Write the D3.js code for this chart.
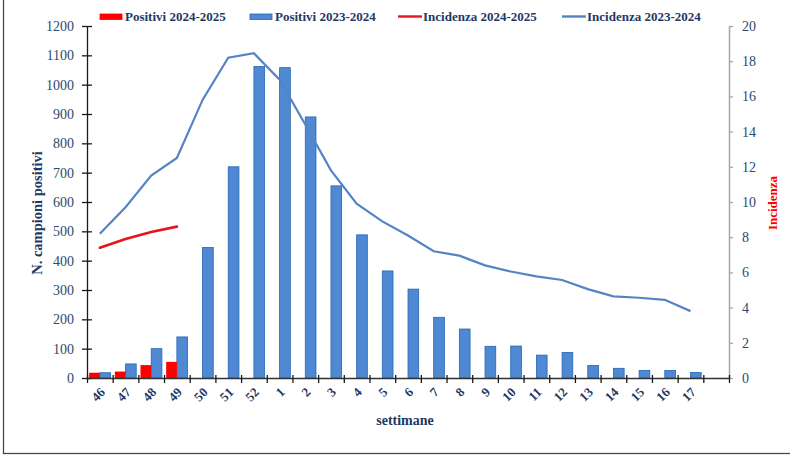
<!DOCTYPE html>
<html>
<head>
<meta charset="utf-8">
<script src="https://cdn.jsdelivr.net/npm/d3@7"></script>
<style>
    body { margin: 0; background: #fff; }
    svg text { font-family: "Liberation Serif", "Times New Roman", serif; }
</style>
</head>
<body>
<svg id="chart" width="790" height="458"></svg>
<script>
// weeks of the season, last slot is left empty on the axis
var weeks = ['46', '47', '48', '49', '50', '51', '52', '1', '2', '3', '4', '5', '6',
             '7', '8', '9', '10', '11', '12', '13', '14', '15', '16', '17', ''];

var positivi2425 = [18, 22, 44, 55];
var positivi2324 = [18, 48, 100, 140, 445, 720, 1062, 1058, 890, 655, 488, 365, 303,
                    207, 167, 108, 109, 78, 87, 43, 33, 26, 26, 19];

var incidenza2425 = [7.4, 7.9, 8.3, 8.6];
var incidenza2324 = [8.2, 9.7, 11.5, 12.5, 15.8, 18.2, 18.45, 16.95, 14.4, 11.8, 9.9, 8.9,
                     8.1, 7.2, 6.95, 6.4, 6.05, 5.77, 5.57, 5.05, 4.64, 4.56, 4.44, 3.8];

var leftTicks = d3.range(0, 1201, 100);
var rightTicks = d3.range(0, 21, 2);

var NAVY = '#1f3864',
    TICK_TXT = '#2c4a6e',
    BLUE_FILL = '#5089d3',
    BLUE_EDGE = '#2467b4',
    BLUE_LINE = '#5584c6',
    RED = '#ff0000',
    RED_LINE = '#e8141c';

var svg = d3.select('#chart');

// outer frame
svg.append('rect')
    .attr('x', 3.5).attr('y', -10)
    .attr('width', 820).attr('height', 463.5)
    .attr('fill', 'none')
    .attr('stroke', '#2f4f72')
    .attr('stroke-width', 1.3);

var x = d3.scaleBand().domain(weeks).range([87, 729]),
    xSub = d3.scaleBand().domain(['a', 'b']).range([0, x.bandwidth()]).paddingOuter(0.2),
    y = d3.scaleLinear().domain([0, 1200]).range([378, 26]),
    y2 = d3.scaleLinear().domain([0, 20]).range([378, 26]),
    xEdge = d3.scaleLinear().domain([0, weeks.length]).range([87, 729]);

// bars
svg.append('g').selectAll('rect')
    .data(positivi2324)
    .enter().append('rect')
    .attr('x', function(d, i) { return x(weeks[i]) + xSub('b'); })
    .attr('y', function(d) { return y(d); })
    .attr('width', xSub.bandwidth())
    .attr('height', function(d) { return y(0) - y(d); })
    .attr('fill', BLUE_FILL)
    .attr('stroke', BLUE_EDGE)
    .attr('stroke-width', 0.8);

svg.append('g').selectAll('rect')
    .data(positivi2425)
    .enter().append('rect')
    .attr('x', function(d, i) { return x(weeks[i]) + xSub('a'); })
    .attr('y', function(d) { return y(d); })
    .attr('width', xSub.bandwidth())
    .attr('height', function(d) { return y(0) - y(d); })
    .attr('fill', RED);

// incidence lines
var line = d3.line()
    .x(function(d, i) { return x(weeks[i]) + x.bandwidth() / 2; })
    .y(function(d) { return y2(d); });

svg.append('path')
    .datum(incidenza2324)
    .attr('d', line)
    .attr('fill', 'none')
    .attr('stroke', BLUE_LINE)
    .attr('stroke-width', 2.2);

svg.append('path')
    .datum(incidenza2425)
    .attr('d', line)
    .attr('fill', 'none')
    .attr('stroke', RED_LINE)
    .attr('stroke-width', 2.6)
    .attr('stroke-linecap', 'round');

// left axis
var gl = svg.append('g')
    .attr('transform', 'translate(87,0)')
    .call(d3.axisLeft(y).tickValues(leftTicks).tickFormat(d3.format('d'))
        .tickSizeInner(5).tickSizeOuter(0).tickPadding(8));
gl.select('.domain').attr('stroke', '#1a1a1a').attr('stroke-width', 1.3);
gl.selectAll('.tick line').attr('stroke', '#1a1a1a').attr('stroke-width', 1.3).attr('x2', 5).attr('x1', -5);
gl.selectAll('.tick text').attr('fill', TICK_TXT).attr('font-size', 14);

// right axis
var gr = svg.append('g')
    .attr('transform', 'translate(729,0)')
    .call(d3.axisRight(y2).tickValues(rightTicks).tickFormat(d3.format('d'))
        .tickSizeInner(4).tickSizeOuter(0).tickPadding(9));
gr.select('.domain').attr('stroke', '#a6a6a6').attr('stroke-width', 1.5);
gr.selectAll('.tick line').attr('stroke', '#a6a6a6').attr('stroke-width', 1.3);
gr.selectAll('.tick text').attr('fill', TICK_TXT).attr('font-size', 14);

// bottom axis: ticks on band edges, labels on band centres
var ge = svg.append('g')
    .attr('transform', 'translate(0,378)')
    .call(d3.axisBottom(xEdge).ticks(weeks.length).tickFormat('').tickSizeInner(5).tickSizeOuter(0));
ge.select('.domain').attr('stroke', '#333').attr('stroke-width', 1.6);
ge.selectAll('.tick line').attr('stroke', '#1a1a1a').attr('stroke-width', 1.3).attr('y1', -3);

var gb = svg.append('g')
    .attr('transform', 'translate(0,378)')
    .call(d3.axisBottom(x).tickSize(0).tickPadding(0));
gb.select('.domain').remove();
gb.selectAll('.tick text')
    .attr('fill', NAVY)
    .attr('font-size', 13)
    .attr('font-weight', 'bold')
    .attr('text-anchor', 'end')
    .attr('dy', 0)
    .attr('transform', 'translate(6,15) rotate(-45)');

// axis titles
svg.append('text')
    .attr('transform', 'translate(42,213) rotate(-90)')
    .attr('text-anchor', 'middle')
    .attr('fill', NAVY)
    .attr('font-size', 14.5)
    .attr('font-weight', 'bold')
    .text('N. campioni positivi');

svg.append('text')
    .attr('transform', 'translate(777,203) rotate(-90)')
    .attr('text-anchor', 'middle')
    .attr('fill', RED)
    .attr('font-size', 13)
    .attr('font-weight', 'bold')
    .text('Incidenza');

svg.append('text')
    .attr('x', 405).attr('y', 425)
    .attr('text-anchor', 'middle')
    .attr('fill', NAVY)
    .attr('font-size', 14)
    .attr('font-weight', 'bold')
    .text('settimane');

// legend
var legend = [
    {label: 'Positivi 2024-2025', x: 100, kind: 'bar', color: RED, edge: RED},
    {label: 'Positivi 2023-2024', x: 250, kind: 'bar', color: BLUE_FILL, edge: BLUE_EDGE},
    {label: 'Incidenza 2024-2025', x: 398, kind: 'line', color: RED_LINE},
    {label: 'Incidenza 2023-2024', x: 562, kind: 'line', color: BLUE_LINE}
];

var lg = svg.append('g').selectAll('g')
    .data(legend)
    .enter().append('g')
    .attr('transform', function(d) { return 'translate(' + d.x + ',0)'; });

lg.filter(function(d) { return d.kind === 'bar'; })
    .append('rect')
    .attr('x', 0).attr('y', 14)
    .attr('width', 22).attr('height', 5.5)
    .attr('fill', function(d) { return d.color; })
    .attr('stroke', function(d) { return d.edge; })
    .attr('stroke-width', 0.8);

lg.filter(function(d) { return d.kind === 'line'; })
    .append('line')
    .attr('x1', 0).attr('x2', 24)
    .attr('y1', 16.5).attr('y2', 16.5)
    .attr('stroke', function(d) { return d.color; })
    .attr('stroke-width', 2.4);

lg.append('text')
    .attr('x', 25)
    .attr('y', 21)
    .attr('fill', NAVY)
    .attr('font-size', 13)
    .attr('font-weight', 'bold')
    .text(function(d) { return d.label; });
</script>
</body>
</html>
